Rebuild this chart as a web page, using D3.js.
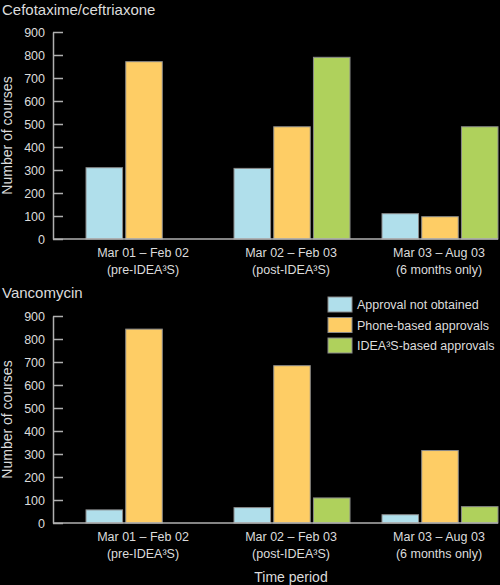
<!DOCTYPE html>
<html>
<head>
<meta charset="utf-8"/>
<script src="https://d3js.org/d3.v7.min.js"></script>
<style>
  body { margin: 0; background: #000; }
  text { font-family: "Liberation Sans", Arial, sans-serif; fill: #dcdcdc; }
</style>
</head>
<body>
<svg id="chart" width="500" height="585"></svg>
<script>
// data
let periods = ["p1", "p2", "p3"];
let periodLine1 = ["Mar 01 \u2013 Feb 02", "Mar 02 \u2013 Feb 03", "Mar 03 \u2013 Aug 03"];
let periodLine2 = ["(pre-IDEA\u00b3S)", "(post-IDEA\u00b3S)", "(6 months only)"];
let seriesNames = ["Approval not obtained", "Phone-based approvals", "IDEA\u00b3S-based approvals"];
let seriesColors = ["#b0dfeb", "#fecd65", "#afd15c"];
let yTicks = [0, 100, 200, 300, 400, 500, 600, 700, 800, 900];

let cefNotObtained = [310, 307, 110];
let cefPhone = [771, 488, 97];
let cefIdea = [0, 790, 488];

let vanNotObtained = [57, 67, 36];
let vanPhone = [843, 684, 315];
let vanIdea = [0, 109, 71];

let svg = d3.select("#chart");
let axisX = 53;
let rightX = 498;

// shared x scales
let x0 = d3.scaleBand().domain(periods).range([86, 498]).paddingInner(0.216).paddingOuter(0);
let x1 = d3.scaleBand().domain([0, 1, 2]).range([0, x0.bandwidth()]).paddingInner(0.08).paddingOuter(0);

function panel(title, titleY, top, bottom, series) {
    let y = d3.scaleLinear().domain([0, 900]).range([bottom, top]);
    let g = svg.append("g");

    g.append("text")
        .attr("x", 2)
        .attr("y", titleY)
        .style("font-size", "15px")
        .text(title);

    // bars (skip zero values, there is no bar there)
    for (let s = 0; s < series.length; s++) {
        g.selectAll(null)
            .data(series[s].map((v, i) => ({v: v, p: periods[i]})).filter(d => d.v > 0))
            .join("rect")
            .attr("x", d => x0(d.p) + x1(s))
            .attr("y", d => y(d.v))
            .attr("width", x1.bandwidth())
            .attr("height", d => y(0) - y(d.v))
            .attr("fill", seriesColors[s])
            .attr("stroke", "#8a8a8a")
            .attr("stroke-width", 1);
    }

    // y axis with ticks going inward
    let yAxis = g.append("g")
        .attr("transform", "translate(" + axisX + ",0)")
        .call(d3.axisLeft(y).tickValues(yTicks).tickSizeInner(-10).tickSizeOuter(0).tickPadding(8));
    yAxis.selectAll("line").attr("stroke", "#b0b0b0").attr("stroke-width", 1.5);
    yAxis.select(".domain").attr("stroke", "#b0b0b0").attr("stroke-width", 1.5);
    yAxis.selectAll("text")
        .style("font-size", "12.5px")
        .style("font-family", "Liberation Sans, Arial, sans-serif")
        .attr("fill", "#dcdcdc");

    // baseline
    g.append("line")
        .attr("x1", axisX)
        .attr("x2", rightX)
        .attr("y1", y(0))
        .attr("y2", y(0))
        .attr("stroke", "#b0b0b0")
        .attr("stroke-width", 1.5);

    // y label
    g.append("text")
        .attr("transform", "translate(12," + ((top + bottom) / 2) + ") rotate(-90)")
        .attr("text-anchor", "middle")
        .style("font-size", "14px")
        .text("Number of courses");

    // category labels
    let cats = g.selectAll(".cat")
        .data(periods)
        .join("text")
        .attr("class", "cat")
        .attr("text-anchor", "middle")
        .style("font-size", "12.5px")
        .attr("x", d => x0(d) + x0.bandwidth() / 2 - 1);
    cats.append("tspan")
        .attr("x", d => x0(d) + x0.bandwidth() / 2 - 1)
        .attr("y", y(0) + 17.5)
        .text((d, i) => periodLine1[i]);
    cats.append("tspan")
        .attr("x", d => x0(d) + x0.bandwidth() / 2 - 1)
        .attr("y", y(0) + 34.5)
        .text((d, i) => periodLine2[i]);
    return y;
}

panel("Cefotaxime/ceftriaxone", 15, 32, 239, [cefNotObtained, cefPhone, cefIdea]);
panel("Vancomycin", 298, 316, 523, [vanNotObtained, vanPhone, vanIdea]);

// legend
let legend = svg.append("g").attr("transform", "translate(328,297)");
seriesNames.forEach(function(name, i) {
    legend.append("rect")
        .attr("x", 0)
        .attr("y", i * 20.5)
        .attr("width", 24)
        .attr("height", 15)
        .attr("fill", seriesColors[i])
        .attr("stroke", "#8a8a8a");
    legend.append("text")
        .attr("x", 29)
        .attr("y", i * 20.5 + 12)
        .style("font-size", "12.5px")
        .text(name);
});

// x axis title
svg.append("text")
    .attr("x", 291)
    .attr("y", 582)
    .attr("text-anchor", "middle")
    .style("font-size", "14px")
    .text("Time period");
</script>
</body>
</html>
